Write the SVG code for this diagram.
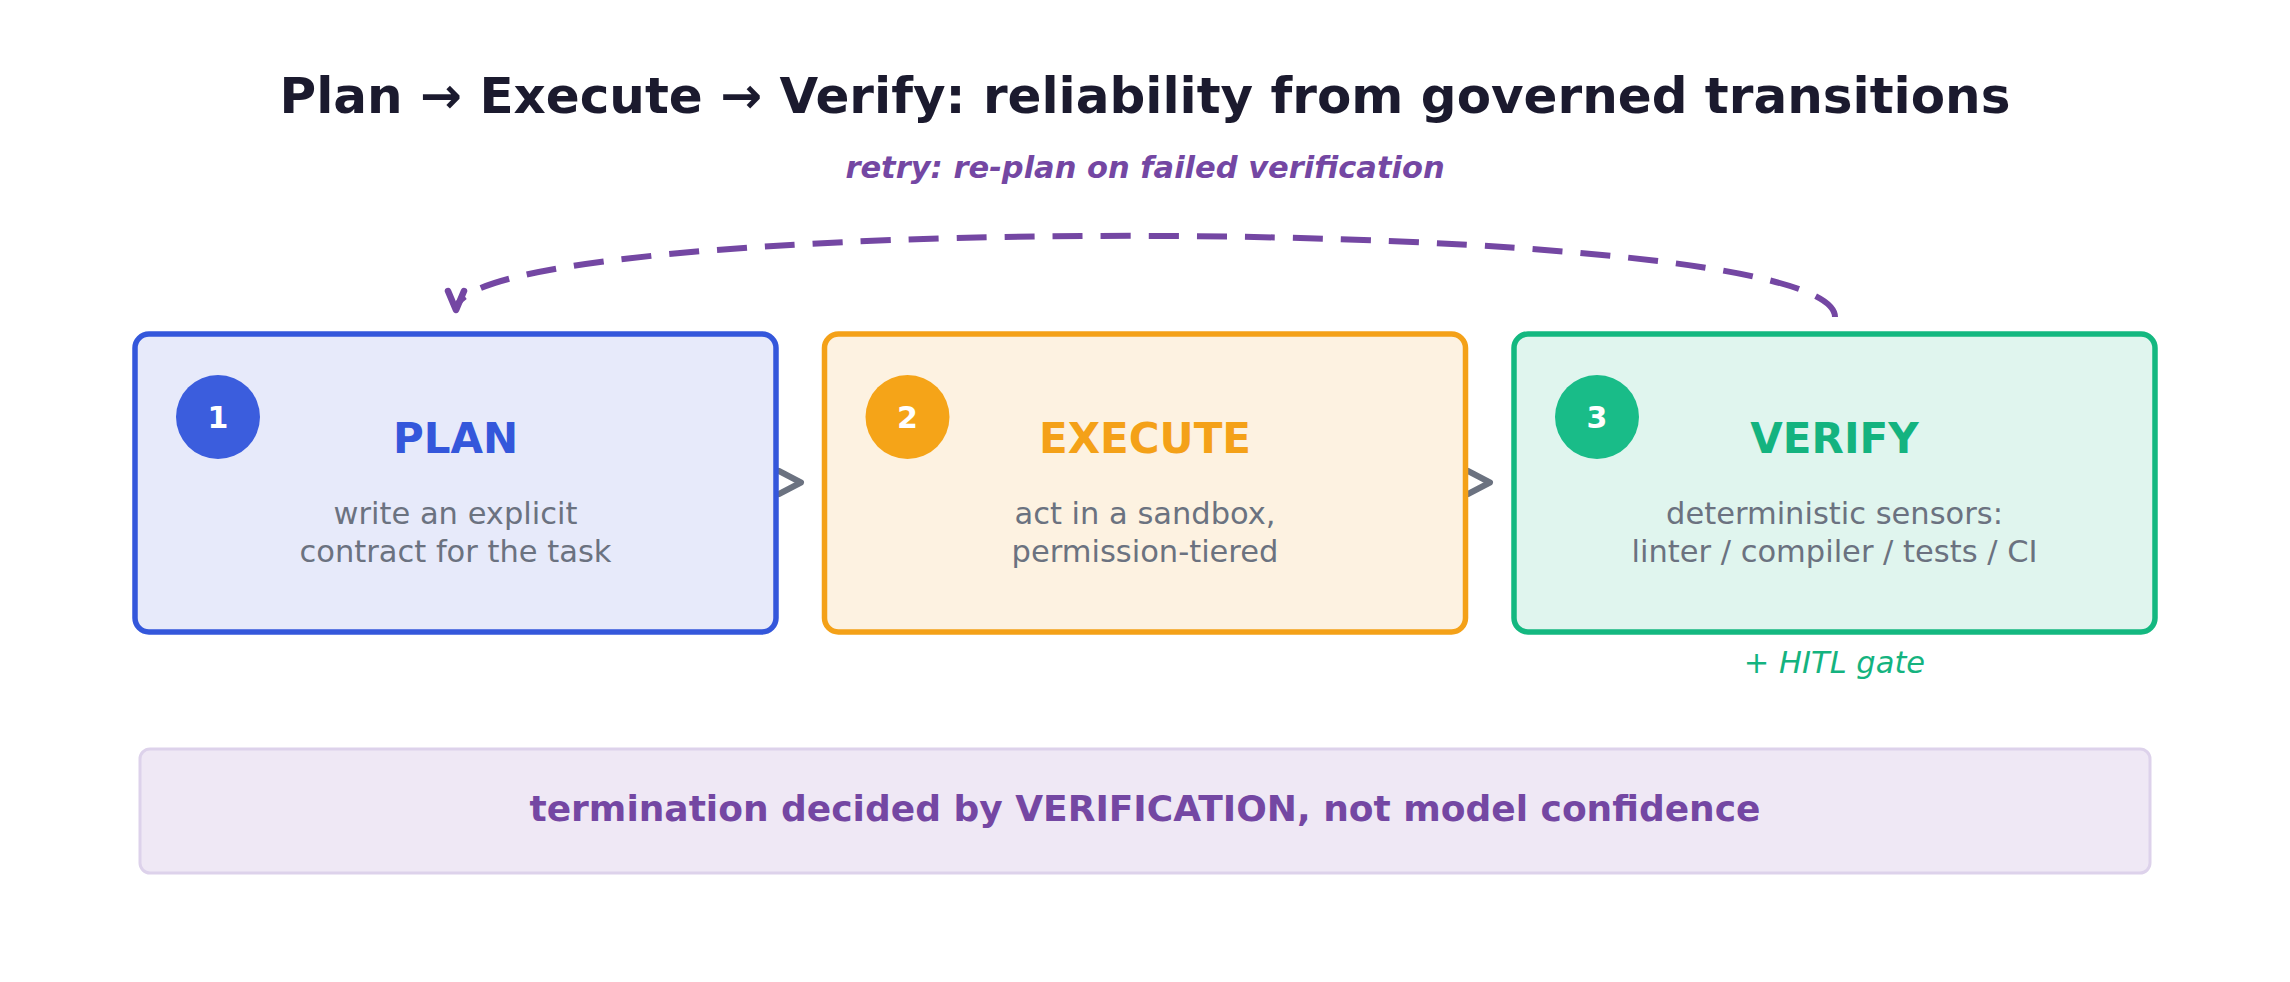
<svg xmlns="http://www.w3.org/2000/svg" width="2290" height="982" viewBox="0 0 2290 982">
<defs>
<style>
text{font-family:"DejaVu Sans","Liberation Sans",sans-serif;text-anchor:middle}
.title{font-size:50px;font-weight:bold;fill:#1b1a2e}
.sub{font-size:30.5px;font-weight:bold;font-style:italic;fill:#7447a3}
.box{stroke-width:5.5}
.num{font-size:30px;font-weight:bold;fill:#ffffff}
.head{font-size:42px;font-weight:bold}
.desc{font-size:30.5px;fill:#6b7280}
.hitl{font-size:30.5px;font-style:italic;fill:#14b37f}
.foot{font-size:36px;font-weight:bold;fill:#7447a3}
.chev{fill:none;stroke:#6b7280;stroke-width:6;stroke-linecap:round;stroke-linejoin:round}
</style>
<marker id="ah" markerUnits="userSpaceOnUse" viewBox="-26 -12 32 24" refX="0" refY="0" markerWidth="32" markerHeight="24" orient="auto">
<path d="M-19,-8 L0,0 L-19,8" fill="none" stroke="#7447a3" stroke-width="6.5" stroke-linecap="round" stroke-linejoin="round"/>
</marker>
</defs>
<rect width="2290" height="982" fill="#ffffff"/>
<text class="title" x="1145" y="113">Plan → Execute → Verify: reliability from governed transitions</text>
<text class="sub" x="1145" y="178">retry: re-plan on failed verification</text>
<g id="connectors">
<path d="M1835,317 C1835,210 456,210 456,310" fill="none" stroke="#7447a3" stroke-width="6" stroke-dasharray="30 18" marker-end="url(#ah)"/>
<path class="chev" d="M779,471 L801,482.5 L779,494"/>
<path class="chev" d="M1468,471 L1490,482.5 L1468,494"/>
</g>
<g id="plan">
<rect class="box" x="135" y="334" width="641" height="298" rx="14" fill="#e7eafa" stroke="#3457db"/>
<circle cx="218" cy="417" r="42" fill="#3b5ddd"/>
<text class="num" x="218" y="428">1</text>
<text class="head" x="455.5" y="453" fill="#3457db">PLAN</text>
<text class="desc" x="455.5" y="524">write an explicit</text>
<text class="desc" x="455.5" y="562">contract for the task</text>
</g>
<g id="execute">
<rect class="box" x="824.5" y="334" width="641" height="298" rx="14" fill="#fdf2e1" stroke="#f4a118"/>
<circle cx="907.5" cy="417" r="42" fill="#f5a418"/>
<text class="num" x="907.5" y="428">2</text>
<text class="head" x="1145" y="453" fill="#f4a118">EXECUTE</text>
<text class="desc" x="1145" y="524">act in a sandbox,</text>
<text class="desc" x="1145" y="562">permission-tiered</text>
</g>
<g id="verify">
<rect class="box" x="1514" y="334" width="641" height="298" rx="14" fill="#e0f5ee" stroke="#14b880"/>
<circle cx="1597" cy="417" r="42" fill="#19bc88"/>
<text class="num" x="1597" y="428">3</text>
<text class="head" x="1834.5" y="453" fill="#14b37f">VERIFY</text>
<text class="desc" x="1834.5" y="524">deterministic sensors:</text>
<text class="desc" x="1834.5" y="562">linter / compiler / tests / CI</text>
<text class="hitl" x="1834.5" y="673">+ HITL gate</text>
</g>
<g id="footer">
<rect x="140" y="749" width="2010" height="124" rx="10" fill="#efe8f5" stroke="#ddd2eb" stroke-width="3"/>
<text class="foot" x="1145" y="821">termination decided by VERIFICATION, not model confidence</text>
</g>
</svg>
